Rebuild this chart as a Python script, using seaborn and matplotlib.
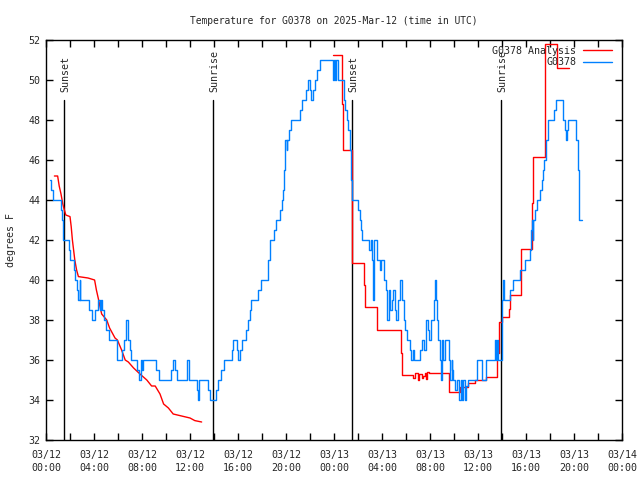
import numpy as np
import pandas as pd
import matplotlib
matplotlib.use("Agg")
import matplotlib.pyplot as plt
import seaborn as sns

# ---------------- data ----------------
obs_hours = [0.3, 0.45, 0.55, 1.25, 1.35, 1.45, 1.9, 2.0, 2.3, 2.45, 2.6, 2.7, 2.8, 2.85, 3.6, 3.8,
             4.1, 4.3, 4.5, 4.6, 4.7, 4.85, 5.0, 5.25, 5.9, 6.3, 6.5, 6.7, 6.85, 7.0, 7.1, 7.6, 7.75,
             7.9, 8.0, 8.1, 9.2, 9.4, 10.4, 10.55, 10.75, 10.9, 11.75, 11.95, 12.55, 12.65, 12.75,
             13.5, 13.65, 14.2, 14.35, 14.6, 14.85, 15.5, 15.6, 15.9, 16.0, 16.2, 16.35, 16.7, 16.85,
             17.0, 17.1, 17.7, 17.9, 18.5, 18.65, 19.0, 19.2, 19.5, 19.65, 19.75, 19.85, 19.95, 20.05,
             20.1, 20.25, 20.4, 21.2, 21.35, 21.65, 21.85, 22.0, 22.1, 22.25, 22.4, 22.55, 22.8,
             23.95, 24.0, 24.1, 24.15, 24.3, 24.8, 24.9, 25.05, 25.2, 25.33, 25.42, 25.5, 26.03,
             26.17, 26.25, 26.3, 26.95, 27.05, 27.15, 27.25, 27.3, 27.55, 27.85, 27.95, 28.15, 28.3,
             28.4, 28.55, 28.65, 28.8, 28.95, 29.1, 29.2, 29.35, 29.5, 29.65, 29.8, 29.9, 30.05,
             30.3, 30.45, 30.6, 30.7, 31.2, 31.35, 31.5, 31.7, 31.85, 31.95, 32.1, 32.3, 32.4, 32.5,
             32.55, 32.7, 32.85, 32.9, 33.0, 33.1, 33.25, 33.6, 33.7, 33.8, 33.85, 33.95, 34.1,
             34.25, 34.45, 34.55, 34.65, 34.75, 34.9, 35.0, 35.2, 35.9, 36.3, 36.7, 37.4, 37.5,
             37.6, 37.7, 37.97, 38.03, 38.1, 38.2, 38.67, 38.95, 39.5, 39.92, 40.3, 40.4, 40.5,
             40.55, 40.6, 40.75, 40.9, 41.15, 41.3, 41.45, 41.5, 41.7, 41.86, 42.35, 42.47, 43.1,
             43.25, 43.33, 43.45, 43.53, 44.2, 44.3, 44.38, 44.45, 44.7]
obs_temps = [45, 44.5, 44, 43.5, 43, 42, 41.5, 41, 40.5, 40, 39.5, 39, 40, 39, 38.5, 38,
             38.5, 39, 38.5, 39, 38.5, 38, 37.5, 37, 36, 36.5, 37, 38, 37, 36.5, 36, 35.5, 35,
             36, 35.5, 36, 35.5, 35, 35.5, 36, 35.5, 35, 36, 35, 34.5, 34, 35,
             34.5, 34, 34.5, 35, 35.5, 36, 36.5, 37, 36.5, 36, 36.5, 37, 37.5, 38,
             38.5, 39, 39.5, 40, 41, 42, 42.5, 43, 43.5, 44, 44.5, 45.5, 47, 46.5,
             47, 47.5, 48, 48.5, 49, 49.5, 50, 49.5, 49, 49.5, 50, 50.5, 51,
             50, 51, 50, 51, 50, 49, 48.5, 48, 47.5, 46.5, 45, 44, 43.5,
             43, 42.5, 42, 41.5, 42, 41, 39, 42, 41, 40.5, 41, 40, 39.5,
             38, 39.5, 38.5, 39, 39.5, 38.5, 38, 39, 40, 39, 38, 37.5, 37,
             36.5, 36, 36.5, 36, 36.5, 37, 36.5, 38, 37.5, 37, 38, 39, 40, 39,
             38, 37, 36, 35, 37, 36, 37, 36, 35, 36, 35.5, 35, 34.5,
             35, 34, 35, 34, 35, 34, 34.7, 35, 36, 35, 36, 37, 36,
             37, 36, 38, 39, 40, 39, 39.5, 40, 40.5, 41, 41.5, 42.5, 43,
             42, 43, 43.5, 44, 44.5, 45, 45.5, 46, 47, 48, 48.5, 49, 48,
             47.5, 47, 47.5, 48, 47, 45.5, 44.5, 43, 43]

ana1_hours = [0.7, 0.97, 1.1, 1.25, 1.4, 1.53, 1.65, 2.0, 2.1, 2.2, 2.3, 2.4, 2.55, 2.7, 3.5,
              4.05, 4.2, 4.35, 4.5, 4.64, 5.06, 5.3, 5.75, 5.95, 6.3, 6.6, 6.86, 7.3, 7.83, 8.4,
              8.8, 9.1, 9.5, 9.8, 10.2, 10.6, 11.3, 12.0, 12.4, 12.97]
ana1_temps = [45.2, 45.2, 44.7, 44.3, 43.8, 43.5, 43.25, 43.17, 42.67, 42.0, 41.5, 41.0, 40.5,
              40.17, 40.1, 40.0, 39.5, 39.1, 38.67, 38.3, 38.0, 37.6, 37.1, 37.0, 36.5, 36.0,
              35.9, 35.6, 35.3, 35.0, 34.7, 34.7, 34.3, 33.8, 33.6, 33.3, 33.2, 33.1, 32.97, 32.9]

ana2_hours = [23.94, 24.64, 24.72, 25.5, 26.53, 26.6, 27.6, 29.62, 29.66, 30.6, 30.75, 31.0,
              31.1, 31.3, 31.45, 31.55, 31.65, 31.75, 31.9, 33.6, 34.5, 35.2, 35.75, 36.7, 37.6,
              37.75, 38.03, 38.6, 38.7, 39.58, 40.47, 40.55, 41.55, 41.6, 42.62, 43.58]
ana2_temps = [51.25, 48.8, 46.5, 40.83, 39.75, 38.67, 37.5, 36.33, 35.25, 35.1, 35.37, 35.0,
              35.3, 35.1, 35.2, 35.33, 35.05, 35.4, 35.33, 34.4, 34.67, 34.83, 35.0, 35.17, 36.33,
              37.9, 38.17, 38.53, 39.25, 41.53, 43.83, 46.13, 48.97, 51.8, 50.58, 50.58]

sun_hours = [1.53, 13.94, 25.53, 37.89]
sun_labels = ["Sunset", "Sunrise", "Sunset", "Sunrise"]

xtick_hours = [0, 4, 8, 12, 16, 20, 24, 28, 32, 36, 40, 44, 48]
xtick_labels = ["03/12\n00:00", "03/12\n04:00", "03/12\n08:00", "03/12\n12:00", "03/12\n16:00",
                "03/12\n20:00", "03/13\n00:00", "03/13\n04:00", "03/13\n08:00", "03/13\n12:00",
                "03/13\n16:00", "03/13\n20:00", "03/14\n00:00"]
ytick_vals = [32, 34, 36, 38, 40, 42, 44, 46, 48, 50, 52]

title = "Temperature for G0378 on 2025-Mar-12 (time in UTC)"
ylabel = "degrees F"
name_ana = "G0378 Analysis"
name_obs = "G0378"

# ---------------- plotting ----------------
sns.set_style("white")
plt.rcParams['font.family'] = ['DejaVu Sans Mono']
FS = 7.2

fig = plt.figure(figsize=(6.4, 4.8), dpi=100)
ax = fig.add_axes([46/640, 1 - 440/480, 576/640, 400/480])

RED = "#ff0000"
BLUE = "#0080ff"

# sunrise / sunset lines
for h, lab in zip(sun_hours, sun_labels):
    ax.axvline(h, ymin=0, ymax=(49 - 32) / 20, color="black", lw=1.0, zorder=1)
    ax.text(h + 0.1, 49.4, lab, rotation=90, ha="center", va="bottom", fontsize=FS, zorder=1)

obs = pd.DataFrame({"hour": obs_hours, "temp": obs_temps})
a1 = pd.DataFrame({"hour": ana1_hours, "temp": ana1_temps})
a2 = pd.DataFrame({"hour": ana2_hours, "temp": ana2_temps})

sns.lineplot(data=a1, x="hour", y="temp", color=RED, lw=1.0, estimator=None, ax=ax,
             label=name_ana, zorder=3)
sns.lineplot(data=a2, x="hour", y="temp", color=RED, lw=1.0, estimator=None, ax=ax,
             drawstyle="steps-post", zorder=3)
sns.lineplot(data=obs, x="hour", y="temp", color=BLUE, lw=1.0, estimator=None, ax=ax,
             drawstyle="steps-post", label=name_obs, zorder=4)

ax.set_xlim(0, 48)
ax.set_ylim(32, 52)
ax.set_xticks(xtick_hours)
ax.set_xticklabels(xtick_labels, fontsize=FS, linespacing=1.35)
ax.set_xticks(np.arange(0, 49, 2), minor=True)
ax.set_yticks(ytick_vals)
ax.set_yticklabels([str(v) for v in ytick_vals], fontsize=FS)
ax.tick_params(axis="both", which="both", direction="in", length=5, width=1,
               top=True, right=True, bottom=True, left=True, color="black", pad=4)
ax.tick_params(axis="x", which="major", pad=7)
for s in ax.spines.values():
    s.set_color("black")
    s.set_linewidth(1.0)

ax.set_xlabel("")
ax.set_ylabel(ylabel, fontsize=FS, labelpad=9)
ax.set_title(title, fontsize=6.9, pad=11.5)

leg = ax.legend(loc="upper right", frameon=False, fontsize=FS, markerfirst=False,
                handlelength=2.9, handletextpad=0.7, borderaxespad=0.0,
                labelspacing=0.15, bbox_to_anchor=(0.99, 0.995))

fig.savefig("out.png", dpi=100)
